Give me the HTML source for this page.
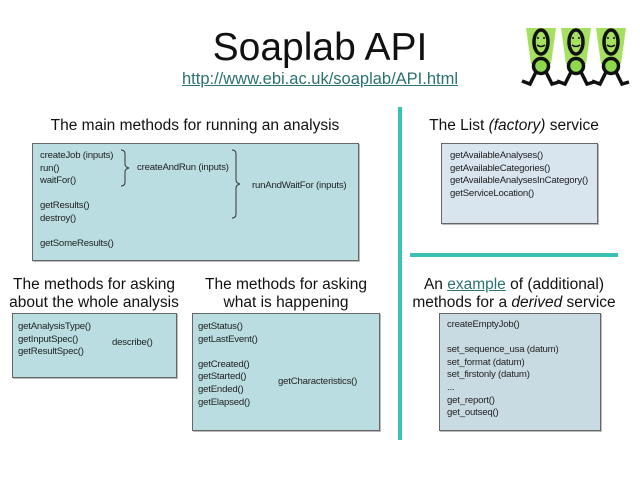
<!DOCTYPE html>
<html><head><meta charset="utf-8"><style>
body{margin:0;width:640px;height:480px;background:#fff;position:relative;overflow:hidden;font-family:"Liberation Sans",Arial,sans-serif;color:#111}
.a{position:absolute;white-space:nowrap}
.h{font-size:15.5px;text-align:center;line-height:18px}
.box{position:absolute;background:#b9dde0;border:1px solid #666;box-sizing:border-box;box-shadow:1px 1px 0 #bbb}
.t{position:absolute;font-size:9.6px;line-height:12.6px;white-space:nowrap;letter-spacing:-0.2px;color:#222}
</style></head><body>
<div class="a" style="left:0;width:640px;top:26px;text-align:center;font-size:39px;line-height:44px">Soaplab API</div>
<div class="a" style="left:0;width:640px;top:70px;text-align:center;font-size:16.5px;color:#2b7272;text-decoration:underline">http://www.ebi.ac.uk/soaplab/API.html</div>

<svg class="a" style="left:518px;top:26px" width="122" height="66" viewBox="0 0 122 66">
<g id="m">
<polygon points="8,2 38,2 33,38 13,38" fill="#a6e060"/>
<ellipse cx="23" cy="16" rx="7" ry="12" fill="none" stroke="#111" stroke-width="3.5"/>
<circle cx="23" cy="40" r="7.5" fill="#8ed84c" stroke="#111" stroke-width="3.5"/>
<path d="M18,46 L12,58 L4,55 M28,46 L34,58 L41,56" fill="none" stroke="#111" stroke-width="3.5"/>
<path d="M19,12 h2 M25,12 h2 M19,19 q4,3 8,0" stroke="#111" stroke-width="1.5" fill="none"/>
</g>
<use href="#m" x="35"/><use href="#m" x="70"/>
</svg>

<div style="position:absolute;left:398px;top:107px;width:4px;height:333px;background:#3cc0b4"></div>
<div style="position:absolute;left:410px;top:253px;width:208px;height:4px;background:#3cc0b4"></div>

<div class="a h" style="left:32px;width:326px;top:117px">The main methods for running an analysis</div>
<div class="box" style="left:32px;top:143px;width:327px;height:118px"></div>
<div class="t" style="left:40px;top:150px">createJob (inputs)<br>run()<br>waitFor()<br><br>getResults()<br>destroy()<br><br>getSomeResults()</div>
<div class="t" style="left:137px;top:162px">createAndRun (inputs)</div>
<div class="t" style="left:252px;top:180px">runAndWaitFor (inputs)</div>
<svg class="a" style="left:0;top:0" width="640" height="480">
<g fill="none" stroke="#333" stroke-width="1">
<path d="M121,150 q4,0 4,4 v10 q0,3 4,4 q-4,1 -4,4 v10 q0,4 -4,4"/>
<path d="M232,150 q4,0 4,4 v26 q0,3 4,4 q-4,1 -4,4 v26 q0,4 -4,4"/>
<path d="M95,324 q4,0 4,4 v8 q0,3 4,4 q-4,1 -4,4 v8 q0,4 -4,4"/>
<path d="M262,357 q4,0 4,4 v14 q0,3 4,4 q-4,1 -4,4 v14 q0,4 -4,4"/>
</g></svg>

<div class="a h" style="left:0;width:188px;top:276px">The methods for asking<br>about the whole analysis</div>
<div class="box" style="left:12px;top:313px;width:165px;height:65px"></div>
<div class="t" style="left:18px;top:321px">getAnalysisType()<br>getInputSpec()<br>getResultSpec()</div>
<div class="t" style="left:112px;top:337px">describe()</div>

<div class="a h" style="left:192px;width:188px;top:276px">The methods for asking<br>what is happening</div>
<div class="box" style="left:192px;top:313px;width:188px;height:118px"></div>
<div class="t" style="left:198px;top:321px">getStatus()<br>getLastEvent()<br><br>getCreated()<br>getStarted()<br>getEnded()<br>getElapsed()</div>
<div class="t" style="left:278px;top:376px">getCharacteristics()</div>

<div class="a h" style="left:410px;width:208px;top:117px">The List <i>(factory)</i> service</div>
<div class="box" style="left:441px;top:143px;width:157px;height:81px;background:#d8e4ee"></div>
<div class="t" style="left:450px;top:150px">getAvailableAnalyses()<br>getAvailableCategories()<br>getAvailableAnalysesInCategory()<br>getServiceLocation()</div>

<div class="a h" style="left:410px;width:208px;top:276px">An <span style="color:#2b7272;text-decoration:underline">example</span> of (additional)<br>methods for a <i>derived</i> service</div>
<div class="box" style="left:439px;top:313px;width:162px;height:118px;background:#c9dbe2"></div>
<div class="t" style="left:447px;top:319px">createEmptyJob()<br><br>set_sequence_usa (datum)<br>set_format (datum)<br>set_firstonly (datum)<br>...<br>get_report()<br>get_outseq()</div>
</body></html>
